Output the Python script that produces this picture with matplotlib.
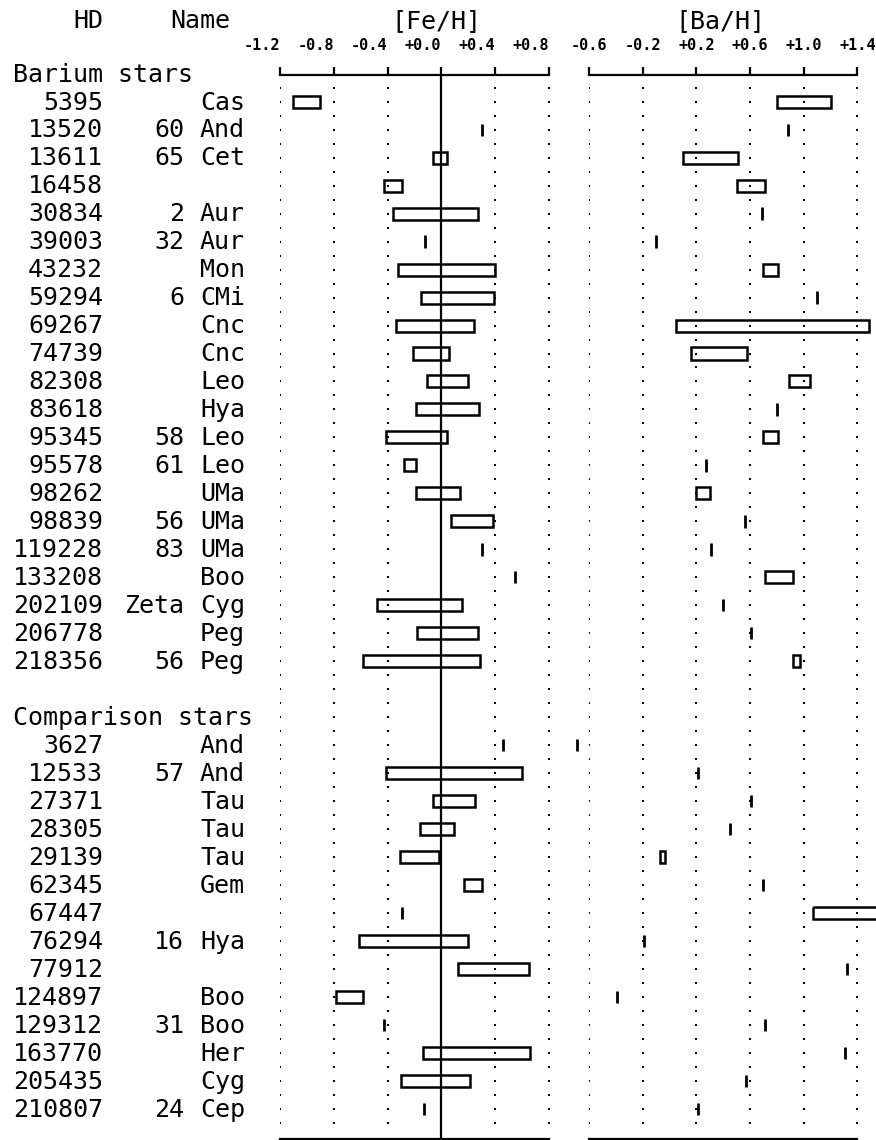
import numpy as np
import matplotlib
matplotlib.use('Agg')
import matplotlib.pyplot as plt

# barium stars
bar_hd = [5395, 13520, 13611, 16458, 30834, 39003, 43232, 59294, 69267, 74739,
          82308, 83618, 95345, 95578, 98262, 98839, 119228, 133208, 202109,
          206778, 218356]
bar_num = ['', '60', '65', '', '2', '32', '', '6', '', '', '', '', '58', '61',
           '', '56', '83', '', 'Zeta', '', '56']
bar_con = ['Cas', 'And', 'Cet', '', 'Aur', 'Aur', 'Mon', 'CMi', 'Cnc', 'Cnc',
           'Leo', 'Hya', 'Leo', 'Leo', 'UMa', 'UMa', 'UMa', 'Boo', 'Cyg', 'Peg',
           'Peg']
bar_fe_lo = [-1.10, 0.30, -0.06, -0.43, -0.36, -0.12, -0.32, -0.15, -0.34, -0.21,
             -0.11, -0.19, -0.41, -0.28, -0.19, 0.07, 0.30, 0.55, -0.48, -0.18,
             -0.58]
bar_fe_hi = [-0.90, 0.30, 0.04, -0.29, 0.27, -0.12, 0.40, 0.39, 0.24, 0.06,
             0.20, 0.28, 0.04, -0.19, 0.14, 0.38, 0.30, 0.55, 0.15, 0.27, 0.29]
bar_ba_lo = [0.80, 0.88, 0.10, 0.50, 0.69, -0.10, 0.70, 1.10, 0.05, 0.16,
             0.89, 0.80, 0.70, 0.27, 0.20, 0.56, 0.31, 0.71, 0.40, 0.61, 0.92]
bar_ba_hi = [1.20, 0.88, 0.51, 0.71, 0.69, -0.10, 0.81, 1.10, 1.49, 0.58,
             1.05, 0.80, 0.81, 0.27, 0.30, 0.56, 0.31, 0.92, 0.40, 0.61, 0.97]

# comparison stars
cmp_hd = [3627, 12533, 27371, 28305, 29139, 62345, 67447, 76294, 77912, 124897,
          129312, 163770, 205435, 210807]
cmp_num = ['', '57', '', '', '', '', '', '16', '', '', '31', '', '', '24']
cmp_con = ['And', 'And', 'Tau', 'Tau', 'Tau', 'Gem', '', 'Hya', '', 'Boo', 'Boo',
           'Her', 'Cyg', 'Cep']
cmp_fe_lo = [0.46, -0.41, -0.06, -0.16, -0.31, 0.17, -0.29, -0.61, 0.12, -0.78,
             -0.43, -0.14, -0.30, -0.13]
cmp_fe_hi = [0.46, 0.60, 0.25, 0.09, -0.02, 0.30, -0.29, 0.20, 0.65, -0.58,
             -0.43, 0.66, 0.21, -0.13]
cmp_ba_lo = [-0.69, 0.21, 0.61, 0.45, -0.072, 0.70, 1.07, -0.19, 1.32, -0.39,
             0.71, 1.31, 0.57, 0.21]
cmp_ba_hi = [-0.69, 0.21, 0.61, 0.45, -0.037, 0.70, 1.62, -0.19, 1.32, -0.39,
             0.71, 1.31, 0.57, 0.21]

fe_ticks = [-1.2, -0.8, -0.4, 0.0, 0.4, 0.8]
ba_ticks = [-0.6, -0.2, 0.2, 0.6, 1.0, 1.4]

W, H = 876, 1140
row0, pitch = 73.7, 27.98
ylim = ((H - row0) / pitch, -row0 / pitch)
bottom_row = (1139 - row0) / pitch

bar_rows = np.arange(1, 1 + len(bar_hd))
cmp_rows = np.arange(24, 24 + len(cmp_hd))
rows = np.concatenate([bar_rows, cmp_rows])

mono = 'DejaVu Sans Mono'
fs = 18

fig = plt.figure(figsize=(W / 100, H / 100), dpi=100)

# text columns
txt = fig.add_axes([0, 0, 1, 1])
txt.set_xlim(0, W)
txt.set_ylim(*ylim)
txt.axis('off')

def put(x, y, s, ha='left', size=fs, weight='normal'):
    txt.text(x, y + 0.28, s, ha=ha, va='baseline', family=mono,
             fontsize=size, fontweight=weight)

put(103, -1.9, 'HD', ha='right')
put(170, -1.9, 'Name')
put(436, -1.9, '[Fe/H]', ha='center')
put(720, -1.9, '[Ba/H]', ha='center')
put(13, 0, 'Barium stars')
put(13, 23, 'Comparison stars')
for r, h, n, c in zip(rows, bar_hd + cmp_hd, bar_num + cmp_num, bar_con + cmp_con):
    put(103, r, str(h), ha='right')
    put(184, r, n, ha='right')
    put(200, r, c)


def fmt(v):
    return ('+' if v >= 0 else '-') + '%.1f' % abs(v)


def panel(ax, lo, hi, ticks, xlim, dotted):
    lo = np.array(lo)
    hi = np.array(hi)
    ax.set_xlim(*xlim)
    ax.set_ylim(*ylim)
    ax.patch.set_visible(False)
    for s in ['left', 'right']:
        ax.spines[s].set_visible(False)
    ax.spines['top'].set_position(('data', 0.05))
    ax.spines['bottom'].set_position(('data', bottom_row))
    ax.spines['top'].set_linewidth(1.6)
    ax.spines['bottom'].set_linewidth(1.6)
    ax.set_yticks([])
    ax.xaxis.set_ticks_position('top')
    ax.set_xticks(ticks, [fmt(t) for t in ticks])
    ax.tick_params(axis='x', direction='out', length=5.8, width=1.6, pad=10,
                   labelsize=11)
    for lab in ax.get_xticklabels():
        lab.set_family(mono)
        lab.set_fontweight('bold')

    dots = np.arange(0.5, 38.0, 0.5)
    for t in dotted:
        ax.plot(np.full(len(dots), t), dots, 's', ms=1.9, color='k', mew=0)

    box = hi > lo
    ax.barh(rows[box], (hi - lo)[box], left=lo[box], height=0.43, fill=False,
            edgecolor='k', linewidth=1.8, clip_on=False)
    ax.vlines(lo[~box], rows[~box] - 0.22, rows[~box] + 0.22, color='k',
              linewidth=2.0, clip_on=False)


ax_fe = fig.add_axes([280 / W, 0, 269 / W, 1])
panel(ax_fe, bar_fe_lo + cmp_fe_lo, bar_fe_hi + cmp_fe_hi, fe_ticks,
      (-1.2, 0.8), [t for t in fe_ticks if t != 0.0])
ax_fe.vlines(0, 0.05, ylim[0], color='k', linewidth=1.6)
for lab in ax_fe.get_xticklabels():
    lab.set_horizontalalignment('right')

ax_ba = fig.add_axes([589.3 / W, 0, 268 / W, 1])
panel(ax_ba, bar_ba_lo + cmp_ba_lo, bar_ba_hi + cmp_ba_hi, ba_ticks,
      (-0.6, 1.4), ba_ticks)

fig.savefig('out.png', dpi=100)
